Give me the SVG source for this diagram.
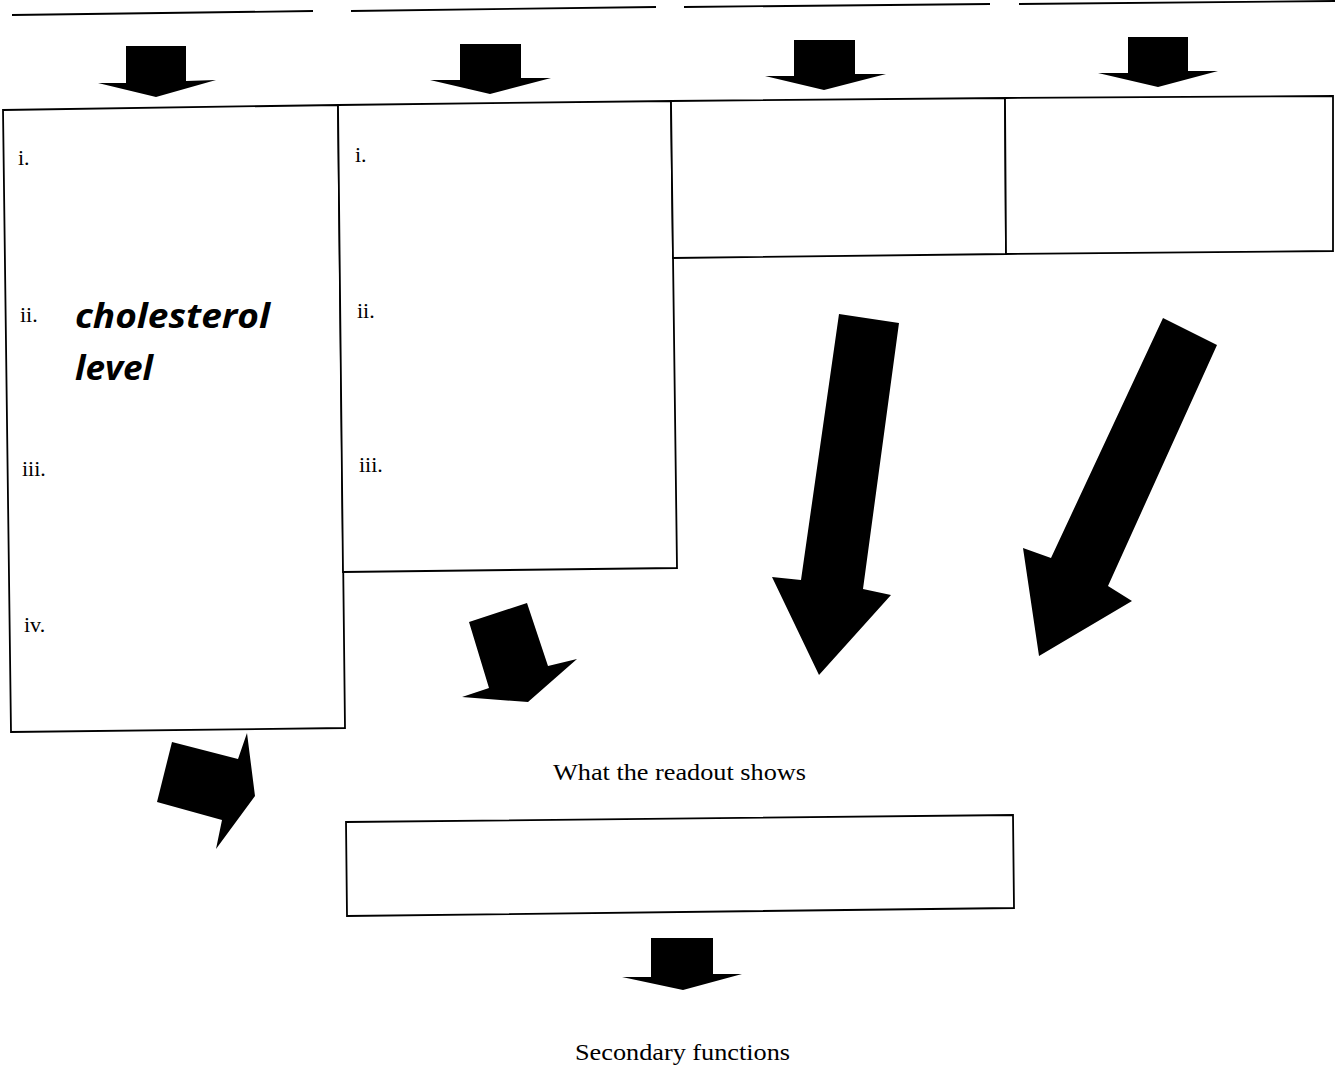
<svg xmlns="http://www.w3.org/2000/svg" width="1335" height="1068" viewBox="0 0 1335 1068">
<style>
.ln{stroke:#000;stroke-width:1.8;fill:none}
.box{stroke:#000;stroke-width:1.8;fill:#fff}
.ar{fill:#000;stroke:none}
.t{font-family:"Liberation Serif","Times New Roman",serif;font-size:22px;fill:#000}
.lb{font-family:"Liberation Serif","Times New Roman",serif;font-size:24px;fill:#000}
.hw{font-family:"Open Sans","DejaVu Sans",sans-serif;font-weight:bold;font-style:italic;font-size:34px;fill:#000}
</style>
<rect width="1335" height="1068" fill="#fff"/>
<g id="header-lines">
<line class="ln" x1="12" y1="15" x2="313" y2="11"/>
<line class="ln" x1="351" y1="11" x2="656" y2="7"/>
<line class="ln" x1="684" y1="7" x2="990" y2="4"/>
<line class="ln" x1="1019" y1="4" x2="1335" y2="1"/>
</g>
<g id="box1">
<polygon class="box" points="3,110 338,105 345,728 11,732"/>
<text class="t" x="18" y="165">i.</text>
<text class="t" x="20" y="322">ii.</text>
<text class="t" x="22" y="476">iii.</text>
<text class="t" x="24" y="632">iv.</text>
<text class="hw" x="75" y="328" textLength="195" lengthAdjust="spacingAndGlyphs">cholesterol</text>
<text class="hw" x="75" y="380" textLength="78" lengthAdjust="spacingAndGlyphs">level</text>
</g>
<g id="box2">
<polygon class="box" points="338,105 671,101 677,568 343,572"/>
<text class="t" x="355" y="162">i.</text>
<text class="t" x="357" y="318">ii.</text>
<text class="t" x="359" y="472">iii.</text>
</g>
<g id="box3">
<polygon class="box" points="671,101 1005,98 1006,254 673,258"/>
</g>
<g id="box4">
<polygon class="box" points="1005,98 1333,96 1333,251 1006,254"/>
</g>
<g id="readout">
<text class="lb" x="553" y="780" textLength="253" lengthAdjust="spacingAndGlyphs">What the readout shows</text>
<polygon class="box" points="346,822 1013,815 1014,908 347,916"/>
</g>
<g id="secondary">
<text class="lb" x="575" y="1060" textLength="215" lengthAdjust="spacingAndGlyphs">Secondary functions</text>
</g>
<g id="connectors">
<polygon class="ar" points="126,46 186,46 186,81 216,80 156,97 98,83 126,83"/>
<polygon class="ar" points="460,44 521,44 521,78 551,78 490,94 430,80 460,80"/>
<polygon class="ar" points="794,40 855,40 855,74 886,74 824,90 765,76 794,76"/>
<polygon class="ar" points="1128,37 1188,37 1188,71 1218,71 1158,87 1098,73 1128,73"/>
<polygon class="ar" points="469,622 527,603 548,666 577,659 528,702 462,697 489,688"/>
<polygon class="ar" points="172,742 238,759 247,733 255,796 216,849 222,820 157,802"/>
<polygon class="ar" points="839,314 899,323 863,589 891,595 819,675 772,577 801,580"/>
<polygon class="ar" points="1163,318 1217,345 1108,586 1132,601 1039,656 1023,548 1051,558"/>
<polygon class="ar" points="651,938 713,938 713,974 742,974 683,990 622,977 651,977"/>
</g>
</svg>
